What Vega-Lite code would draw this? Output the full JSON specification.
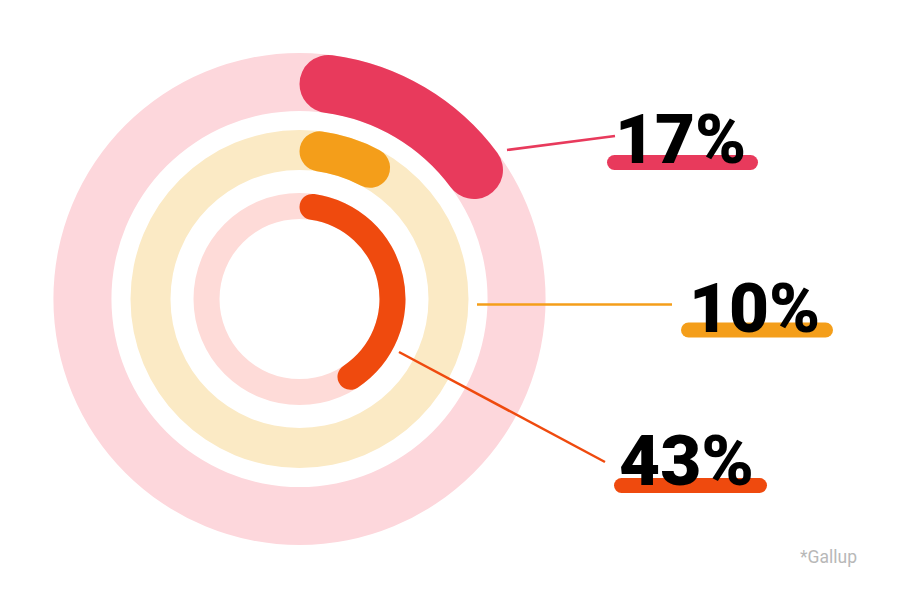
{
  "$schema": "https://vega.github.io/schema/vega-lite/v6.json",
  "width": 599,
  "height": 598,
  "autosize": "none",
  "padding": {"left": 0, "top": 0, "right": 301, "bottom": 0},
  "background": "white",
  "config": {"view": {"stroke": null}},
  "data": {
    "values": [
      {"group": "outer", "value": 17, "label": "17%"},
      {"group": "middle", "value": 10, "label": "10%"},
      {"group": "inner", "value": 43, "label": "43%"}
    ]
  },
  "encoding": {},
  "layer": [
    {
      "transform": [{"filter": "datum.group === 'outer'"}],
      "mark": {"type": "arc", "radius": 246, "radius2": 188, "theta": 0, "theta2": 6.2832, "color": "#FDD7DC"},
      "encoding": {}
    },
    {
      "transform": [{"filter": "datum.group === 'middle'"}],
      "mark": {"type": "arc", "radius": 169, "radius2": 129, "theta": 0, "theta2": 6.2832, "color": "#FBEAC5"},
      "encoding": {}
    },
    {
      "transform": [{"filter": "datum.group === 'inner'"}],
      "mark": {"type": "arc", "radius": 106, "radius2": 80, "theta": 0, "theta2": 6.2832, "color": "#FEDBD8"},
      "encoding": {}
    },
    {
      "transform": [{"filter": "datum.group === 'outer'"}],
      "mark": {"type": "arc", "radius": 246, "radius2": 188, "cornerRadius": 29},
      "encoding": {
        "theta": {"field": "value", "type": "quantitative", "stack": "zero", "scale": {"domain": [0, 100], "range": [0, 6.283185]}},
        "color": {"field": "group", "type": "nominal", "scale": {"domain": ["outer", "middle", "inner"], "range": ["#E83A5C", "#F49E1A", "#EF4A0E"]}, "legend": null}
      }
    },
    {
      "transform": [{"filter": "datum.group === 'middle'"}],
      "mark": {"type": "arc", "radius": 169, "radius2": 129, "cornerRadius": 20},
      "encoding": {
        "theta": {"field": "value", "type": "quantitative", "stack": "zero", "scale": {"domain": [0, 100], "range": [0, 6.283185]}},
        "color": {"field": "group", "type": "nominal", "legend": null}
      }
    },
    {
      "transform": [{"filter": "datum.group === 'inner'"}],
      "mark": {"type": "arc", "radius": 106, "radius2": 80, "cornerRadius": 13},
      "encoding": {
        "theta": {"field": "value", "type": "quantitative", "stack": "zero", "scale": {"domain": [0, 100], "range": [0, 6.283185]}},
        "color": {"field": "group", "type": "nominal", "legend": null}
      }
    },
    {
      "transform": [{"filter": "datum.group === 'outer'"}],
      "mark": {"type": "rule", "strokeWidth": 2.5},
      "encoding": {
        "x": {"datum": 507, "type": "quantitative", "scale": {"domain": [0, 599], "nice": false, "zero": false}, "axis": null},
        "y": {"datum": 150, "type": "quantitative", "scale": {"domain": [0, 598], "nice": false, "zero": false, "reverse": true}, "axis": null},
        "x2": {"datum": 615},
        "y2": {"datum": 136},
        "color": {"field": "group", "type": "nominal", "legend": null}
      }
    },
    {
      "transform": [{"filter": "datum.group === 'middle'"}],
      "mark": {"type": "rule", "strokeWidth": 2.5},
      "encoding": {
        "x": {"datum": 477, "type": "quantitative"},
        "y": {"datum": 304.5, "type": "quantitative"},
        "x2": {"datum": 672},
        "y2": {"datum": 304.5},
        "color": {"field": "group", "type": "nominal", "legend": null}
      }
    },
    {
      "transform": [{"filter": "datum.group === 'inner'"}],
      "mark": {"type": "rule", "strokeWidth": 2.5},
      "encoding": {
        "x": {"datum": 399, "type": "quantitative"},
        "y": {"datum": 352, "type": "quantitative"},
        "x2": {"datum": 605},
        "y2": {"datum": 462},
        "color": {"field": "group", "type": "nominal", "legend": null}
      }
    },
    {
      "transform": [{"filter": "datum.group === 'outer'"}],
      "mark": {"type": "rule", "strokeWidth": 15, "strokeCap": "round"},
      "encoding": {
        "x": {"datum": 614.5, "type": "quantitative"},
        "x2": {"datum": 750.5},
        "y": {"datum": 162.5, "type": "quantitative"},
        "color": {"field": "group", "type": "nominal", "legend": null}
      }
    },
    {
      "transform": [{"filter": "datum.group === 'middle'"}],
      "mark": {"type": "rule", "strokeWidth": 15, "strokeCap": "round"},
      "encoding": {
        "x": {"datum": 688.5, "type": "quantitative"},
        "x2": {"datum": 825.5},
        "y": {"datum": 330, "type": "quantitative"},
        "color": {"field": "group", "type": "nominal", "legend": null}
      }
    },
    {
      "transform": [{"filter": "datum.group === 'inner'"}],
      "mark": {"type": "rule", "strokeWidth": 15, "strokeCap": "round"},
      "encoding": {
        "x": {"datum": 621.5, "type": "quantitative"},
        "x2": {"datum": 759.5},
        "y": {"datum": 485.5, "type": "quantitative"},
        "color": {"field": "group", "type": "nominal", "legend": null}
      }
    },
    {
      "transform": [{"filter": "datum.group === 'outer'"}],
      "mark": {"type": "text", "font": "Roboto", "fontWeight": 900, "fontSize": 69, "align": "left", "baseline": "alphabetic", "color": "#000000"},
      "encoding": {
        "x": {"datum": 615, "type": "quantitative"},
        "y": {"datum": 163, "type": "quantitative"},
        "text": {"field": "label"}
      }
    },
    {
      "transform": [{"filter": "datum.group === 'middle'"}],
      "mark": {"type": "text", "font": "Roboto", "fontWeight": 900, "fontSize": 69, "align": "left", "baseline": "alphabetic", "color": "#000000"},
      "encoding": {
        "x": {"datum": 689, "type": "quantitative"},
        "y": {"datum": 332, "type": "quantitative"},
        "text": {"field": "label"}
      }
    },
    {
      "transform": [{"filter": "datum.group === 'inner'"}],
      "mark": {"type": "text", "font": "Roboto", "fontWeight": 900, "fontSize": 71, "align": "left", "baseline": "alphabetic", "color": "#000000"},
      "encoding": {
        "x": {"datum": 619, "type": "quantitative"},
        "y": {"datum": 485, "type": "quantitative"},
        "text": {"field": "label"}
      }
    },
    {
      "transform": [{"filter": "datum.group === 'outer'"}],
      "mark": {"type": "text", "font": "Roboto", "fontSize": 17.5, "align": "right", "baseline": "alphabetic", "color": "#B8B8B8", "text": "*Gallup"},
      "encoding": {
        "x": {"datum": 857, "type": "quantitative"},
        "y": {"datum": 563, "type": "quantitative"}
      }
    }
  ]
}
